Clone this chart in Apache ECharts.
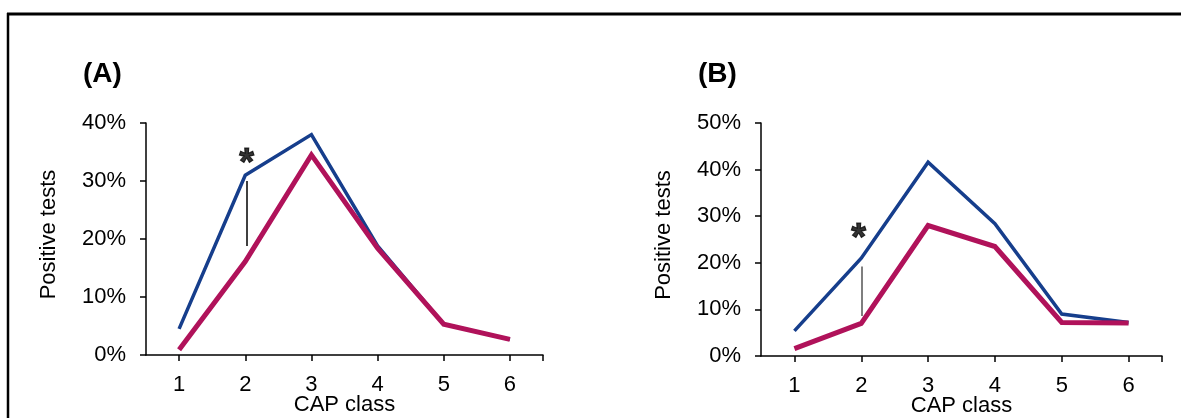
<!DOCTYPE html>
<html>
<head>
<meta charset="utf-8">
<script src="https://cdn.jsdelivr.net/npm/echarts@6/dist/echarts.min.js"></script>
<style>html,body{margin:0;padding:0;background:#fff}#c{width:1181px;height:418px}</style>
</head>
<body>
<div id="c"></div>
<script>
// Data
var capClasses = [1, 2, 3, 4, 5, 6];
var panelA_blue = [4.5, 31.0, 38.0, 18.8, 5.3, 2.7];
var panelA_red = [0.9, 16.1, 34.5, 18.4, 5.3, 2.7];
var panelB_blue = [5.4, 21.0, 41.6, 28.4, 9.0, 7.2];
var panelB_red = [1.6, 7.0, 28.0, 23.5, 7.2, 7.1];
var yTicksA = [0, 10, 20, 30, 40];
var yTicksB = [0, 10, 20, 30, 40, 50];
var sigA = { x: 2.03, top: 30.0, bottom: 18.8, starX: 2.02, starY: 34.1 };
var sigB = { x: 2.0, top: 19.2, bottom: 8.6, starX: 1.96, starY: 26.4 };

var FONT = 'Liberation Sans, Arial, sans-serif';
var BLUE = '#163e8c';
var RED = '#b0125a';
var FS = 22;

function pairs(vals) { return capClasses.map(function (c, i) { return [c, vals[i]]; }); }

function xAxisCfg(gi) {
  return {
    type: 'value', gridIndex: gi, min: 0.5, max: 6.5,
    name: 'CAP class', nameLocation: 'middle', nameGap: 39, nameMoveOverlap: false,
    nameTextStyle: { color: '#000', fontSize: FS, fontFamily: FONT },
    axisLine: { lineStyle: { color: '#000', width: 1.5 } },
    axisTick: { show: true, length: 6, inside: false, lineStyle: { color: '#000', width: 1.5 }, customValues: capClasses.concat([6.5]) },
    axisLabel: { color: '#000', fontSize: FS, fontFamily: FONT, margin: 19, customValues: capClasses },
    splitLine: { show: false }
  };
}
function yAxisCfg(gi, ticks) {
  return {
    type: 'value', gridIndex: gi, min: ticks[0], max: ticks[ticks.length - 1], interval: 10,
    name: 'Positive tests', nameLocation: 'middle', nameGap: 86, nameRotate: 90,
    nameTextStyle: { color: '#000', fontSize: FS, fontFamily: FONT, padding: [0, 0, 0, 9] },
    axisLine: { show: true, lineStyle: { color: '#000', width: 1.5 } },
    axisTick: { show: true, length: 6, lineStyle: { color: '#000', width: 1.5 } },
    axisLabel: { color: '#000', fontSize: FS, fontFamily: FONT, margin: 20, formatter: '{value}%' },
    splitLine: { show: false }
  };
}
function lineSeries(gi, vals, color, width) {
  return {
    type: 'line', xAxisIndex: gi, yAxisIndex: gi, data: pairs(vals),
    showSymbol: false, symbol: 'none', silent: true, animation: false,
    lineStyle: { color: color, width: width, cap: 'butt', join: 'miter' }
  };
}
function sigSeries(gi, s, lineColor) {
  return {
    type: 'scatter', xAxisIndex: gi, yAxisIndex: gi, animation: false, silent: true,
    data: [[s.starX, s.starY]], symbolSize: 1, itemStyle: { color: 'rgba(0,0,0,0)' },
    label: { show: true, position: 'inside', formatter: '*', color: '#000', fontSize: 38, fontWeight: 'bold', fontFamily: FONT, offset: [0, 7], textBorderColor: '#000', textBorderWidth: 1.1 },
    markLine: {
      silent: true, symbol: ['none', 'none'], animation: false, label: { show: false },
      lineStyle: { color: lineColor, width: 1.5, type: 'solid' },
      data: [[{ coord: [s.x, s.top] }, { coord: [s.x, s.bottom] }]]
    }
  };
}

var chart = echarts.init(document.getElementById('c'), null, { renderer: 'canvas' });
chart.setOption({
  backgroundColor: '#fff',
  animation: false,
  title: [
    { text: '(A)', left: 78, top: 55, textStyle: { fontSize: 28, fontWeight: 'bold', color: '#000', fontFamily: FONT } },
    { text: '(B)', left: 693, top: 55, textStyle: { fontSize: 28, fontWeight: 'bold', color: '#000', fontFamily: FONT } }
  ],
  grid: [
    { left: 146, top: 123, width: 397, height: 232, outerBoundsMode: 'none', containLabel: false },
    { left: 761, top: 123, width: 401, height: 233, outerBoundsMode: 'none', containLabel: false }
  ],
  xAxis: [xAxisCfg(0), xAxisCfg(1)],
  yAxis: [yAxisCfg(0, yTicksA), yAxisCfg(1, yTicksB)],
  series: [
    lineSeries(0, panelA_blue, BLUE, 3.5),
    lineSeries(0, panelA_red, RED, 5),
    sigSeries(0, sigA, '#000'),
    lineSeries(1, panelB_blue, BLUE, 3.5),
    lineSeries(1, panelB_red, RED, 5),
    sigSeries(1, sigB, '#555')
  ],
  graphic: [
    { type: 'line', silent: true, shape: { x1: 7, y1: 14, x2: 1181, y2: 14 }, style: { stroke: '#000', lineWidth: 3 } },
    { type: 'line', silent: true, shape: { x1: 8, y1: 13, x2: 8, y2: 418 }, style: { stroke: '#000', lineWidth: 2.5 } }
  ]
});
</script>
</body>
</html>
